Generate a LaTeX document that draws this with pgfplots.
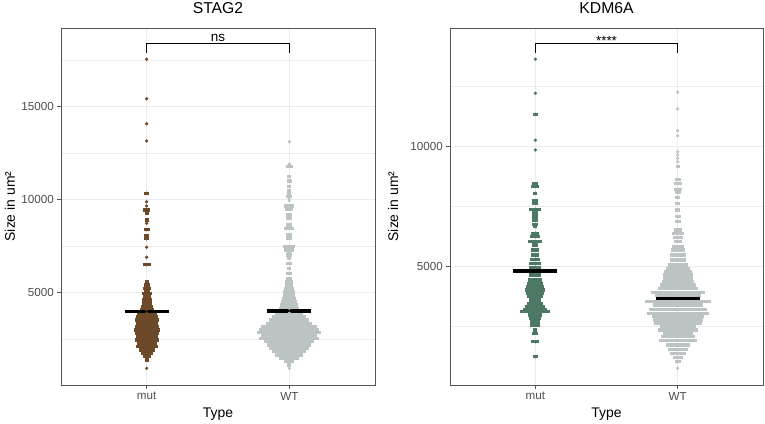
\documentclass[border=0pt]{standalone}
\usepackage{fontspec}
\setmainfont{Liberation Sans}
\usepackage{pgfplots}
\usepackage{pgfplotstable}
\pgfplotsset{compat=1.18}
\definecolor{mutbrown}{RGB}{108,74,41}
\definecolor{mutgreen}{RGB}{76,120,100}
\definecolor{wtgrey}{RGB}{187,195,197}
\definecolor{gridc}{RGB}{235,235,235}
\definecolor{borderc}{RGB}{85,85,85}
\definecolor{labc}{RGB}{77,77,77}

% y = size, w = visible half-width of the beeswarm row (px)
\pgfplotstableread{
y w
17548 0
15430 0
14086 0
13155 0
10344 2.5
9892 0
9660 0
9446 3.5
9268 2
8908 2
8730 0
8387 3
8060 2.5
7900 2.5
7440 0
6903 0
6505 4
5592 2
5414 3
5236 4
5100 3
4968 5
4785 4
4608 5
4430 5
4250 6
4100 7
3893 10
3710 11
3532 12
3355 11
3172 12
2995 13
2817 12
2635 11
2457 12
2280 10
2097 11
1920 8
1742 6
1559 4
1382 2
935 0
}\stagmut

\pgfplotstableread{
y w
13118 0
11900 1.5
11775 3.5
11240 2
11000 2.5
10700 2
10500 2
10340 2
10160 3
9983 1
9660 5
9483 4
9177 3
9000 3
8640 3
8460 5
8100 3
7924 3
7473 6
7295 5
7117 2
7027 3
6850 2
6580 3
6312 2
6043 3
5774 3
5592 4
5414 4
5236 5
5054 6
4876 6
4699 7
4516 8
4339 9
4161 10
3893 14
3710 17
3532 20
3355 23
3172 28
2995 30
2850 32
2726 28
2549 30
2366 25
2188 22
2011 20
1828 17
1651 14
1473 10
1291 5
1113 2
935 0
}\stagwt

\pgfplotstableread{
y w
13613 0
12196 0
11321 2.5
10238 0
9834 0
8417 3
8305 4
8029 2
7722 3
7613 3
7363 6
7208 3
7055 3
6917 3
6737 3
6638 2
6363 4
6221 5
6013 7
5875 3
5667 4
5458 4
5279 5
5113 6
4946 6
4625 6
4417 7
4279 8
4138 9
4000 10
3862 9
3721 8
3583 6
3446 8
3304 10
3200 12
3096 15
2958 7
2821 6
2679 5
2542 5
2333 2
2196 3
1846 4
1221 2.5
}\kdmmut

\pgfplotstableread{
y w
12238 0
11542 0
10638 0
10429 0
9763 0
9625 0
9485 0
9347 0
9138 2
8613 3
8446 4
8196 4
8054 3
7863 2.5
7613 2.5
7333 2.5
7054 3
6846 3
6500 4
6363 6
6196 5
6013 4
5804 6
5667 7
5458 8
5250 8
5042 10
4904 12
4763 14
4625 15
4488 15
4346 16
4208 18
4071 20
3888 27
3775 23
3513 33
3375 25
3196 29
3029 31
2888 26
2750 25
2613 24
2471 18
2333 20
2196 15
2054 17
1888 19
1708 12
1529 10
1363 8
1196 5
1013 3
738 0
}\kdmwt

\pgfplotsset{
  swarm/.style={only marks, mark=*, mark size=1.45bp, color=#1,
    mark options={draw=none, fill=#1},
    error bars/.cd, x dir=both, x explicit, error mark=none,
    error bar style={line width=3.3bp, line cap=butt, color=#1}},
  med/.style={black, line width=3.6bp},
  panel/.style={
    scale only axis, width=314bp, height=357bp, anchor=south west,
    xmin=0.4, xmax=2.6, xtick={1,2}, xticklabels={mut,WT},
    scaled y ticks=false,
    grid=both,
    major grid style={color=gridc, line width=0.9bp},
    minor grid style={color=gridc, line width=0.6bp},
    axis line style={color=borderc, line width=0.9bp},
    tick align=outside, major tick length=3.7bp, minor tick length=0pt,
    tick style={color=borderc, line width=0.8bp},
    xtick pos=left, ytick pos=left,
    ticklabel style={font=\fontsize{11.7}{13}\selectfont, text=labc},
    xlabel={Type}, ylabel={Size in um²},
    label style={font=\fontsize{14}{16}\selectfont},
    xlabel style={at={(axis description cs:0.5,0)}, anchor=base, yshift=-32bp},
    every axis title shift=0pt,
    title style={at={(axis description cs:0.5,1)}, anchor=base, yshift=14.7bp, font=\fontsize{15.8}{18}\selectfont},
    /pgf/number format/1000 sep={},
    /pgf/number format/assume math mode=true,
  },
}

\begin{document}
\begin{tikzpicture}
\useasboundingbox (0,0) rectangle (765bp,424bp);
\begin{axis}[panel, at={(61bp,39bp)},
  ymin=40, ymax=19230,
  ytick={5000,10000,15000}, minor ytick={2500,7500,12500,17500},
  title={STAG2},
  ylabel style={at={(axis description cs:0,0.5)}, anchor=base, yshift=46bp}]
\addplot+[swarm=mutbrown] table[x expr=1, y=y, x error expr=\thisrow{w}/142.7] {\stagmut};
\addplot+[swarm=wtgrey] table[x expr=2, y=y, x error expr=\thisrow{w}/142.7] {\stagwt};
\addplot[med] coordinates {(0.845,4000) (1.155,4000)};
\addplot[med] coordinates {(1.845,4010) (2.155,4010)};
\addplot[black, line width=0.6bp] coordinates {(1,17870) (1,18386) (2,18386) (2,17870)};
\node[anchor=base, font=\fontsize{13.5}{15}\selectfont, yshift=2bp] at (axis cs:1.5,18386) {ns};
\end{axis}
\begin{axis}[panel, at={(450bp,39bp)}, width=313bp,
  ymin=42, ymax=14917,
  ytick={5000,10000}, minor ytick={2500,7500,12500},
  title={KDM6A},
  ylabel style={at={(axis description cs:0,0.5)}, anchor=base, yshift=52bp}]
\addplot+[swarm=mutgreen] table[x expr=1, y=y, x error expr=\thisrow{w}/142.3] {\kdmmut};
\addplot+[swarm=wtgrey] table[x expr=2, y=y, x error expr=\thisrow{w}/142.3] {\kdmwt};
\addplot[med] coordinates {(0.845,4790) (1.155,4790)};
\addplot[med] coordinates {(1.845,3640) (2.155,3640)};
\addplot[black, line width=0.6bp] coordinates {(1,13863) (1,14263) (2,14263) (2,13863)};
\node[anchor=base, font=\fontsize{13.5}{15}\selectfont, yshift=-1.5bp] at (axis cs:1.5,14263) {****};
\end{axis}
\end{tikzpicture}
\end{document}
